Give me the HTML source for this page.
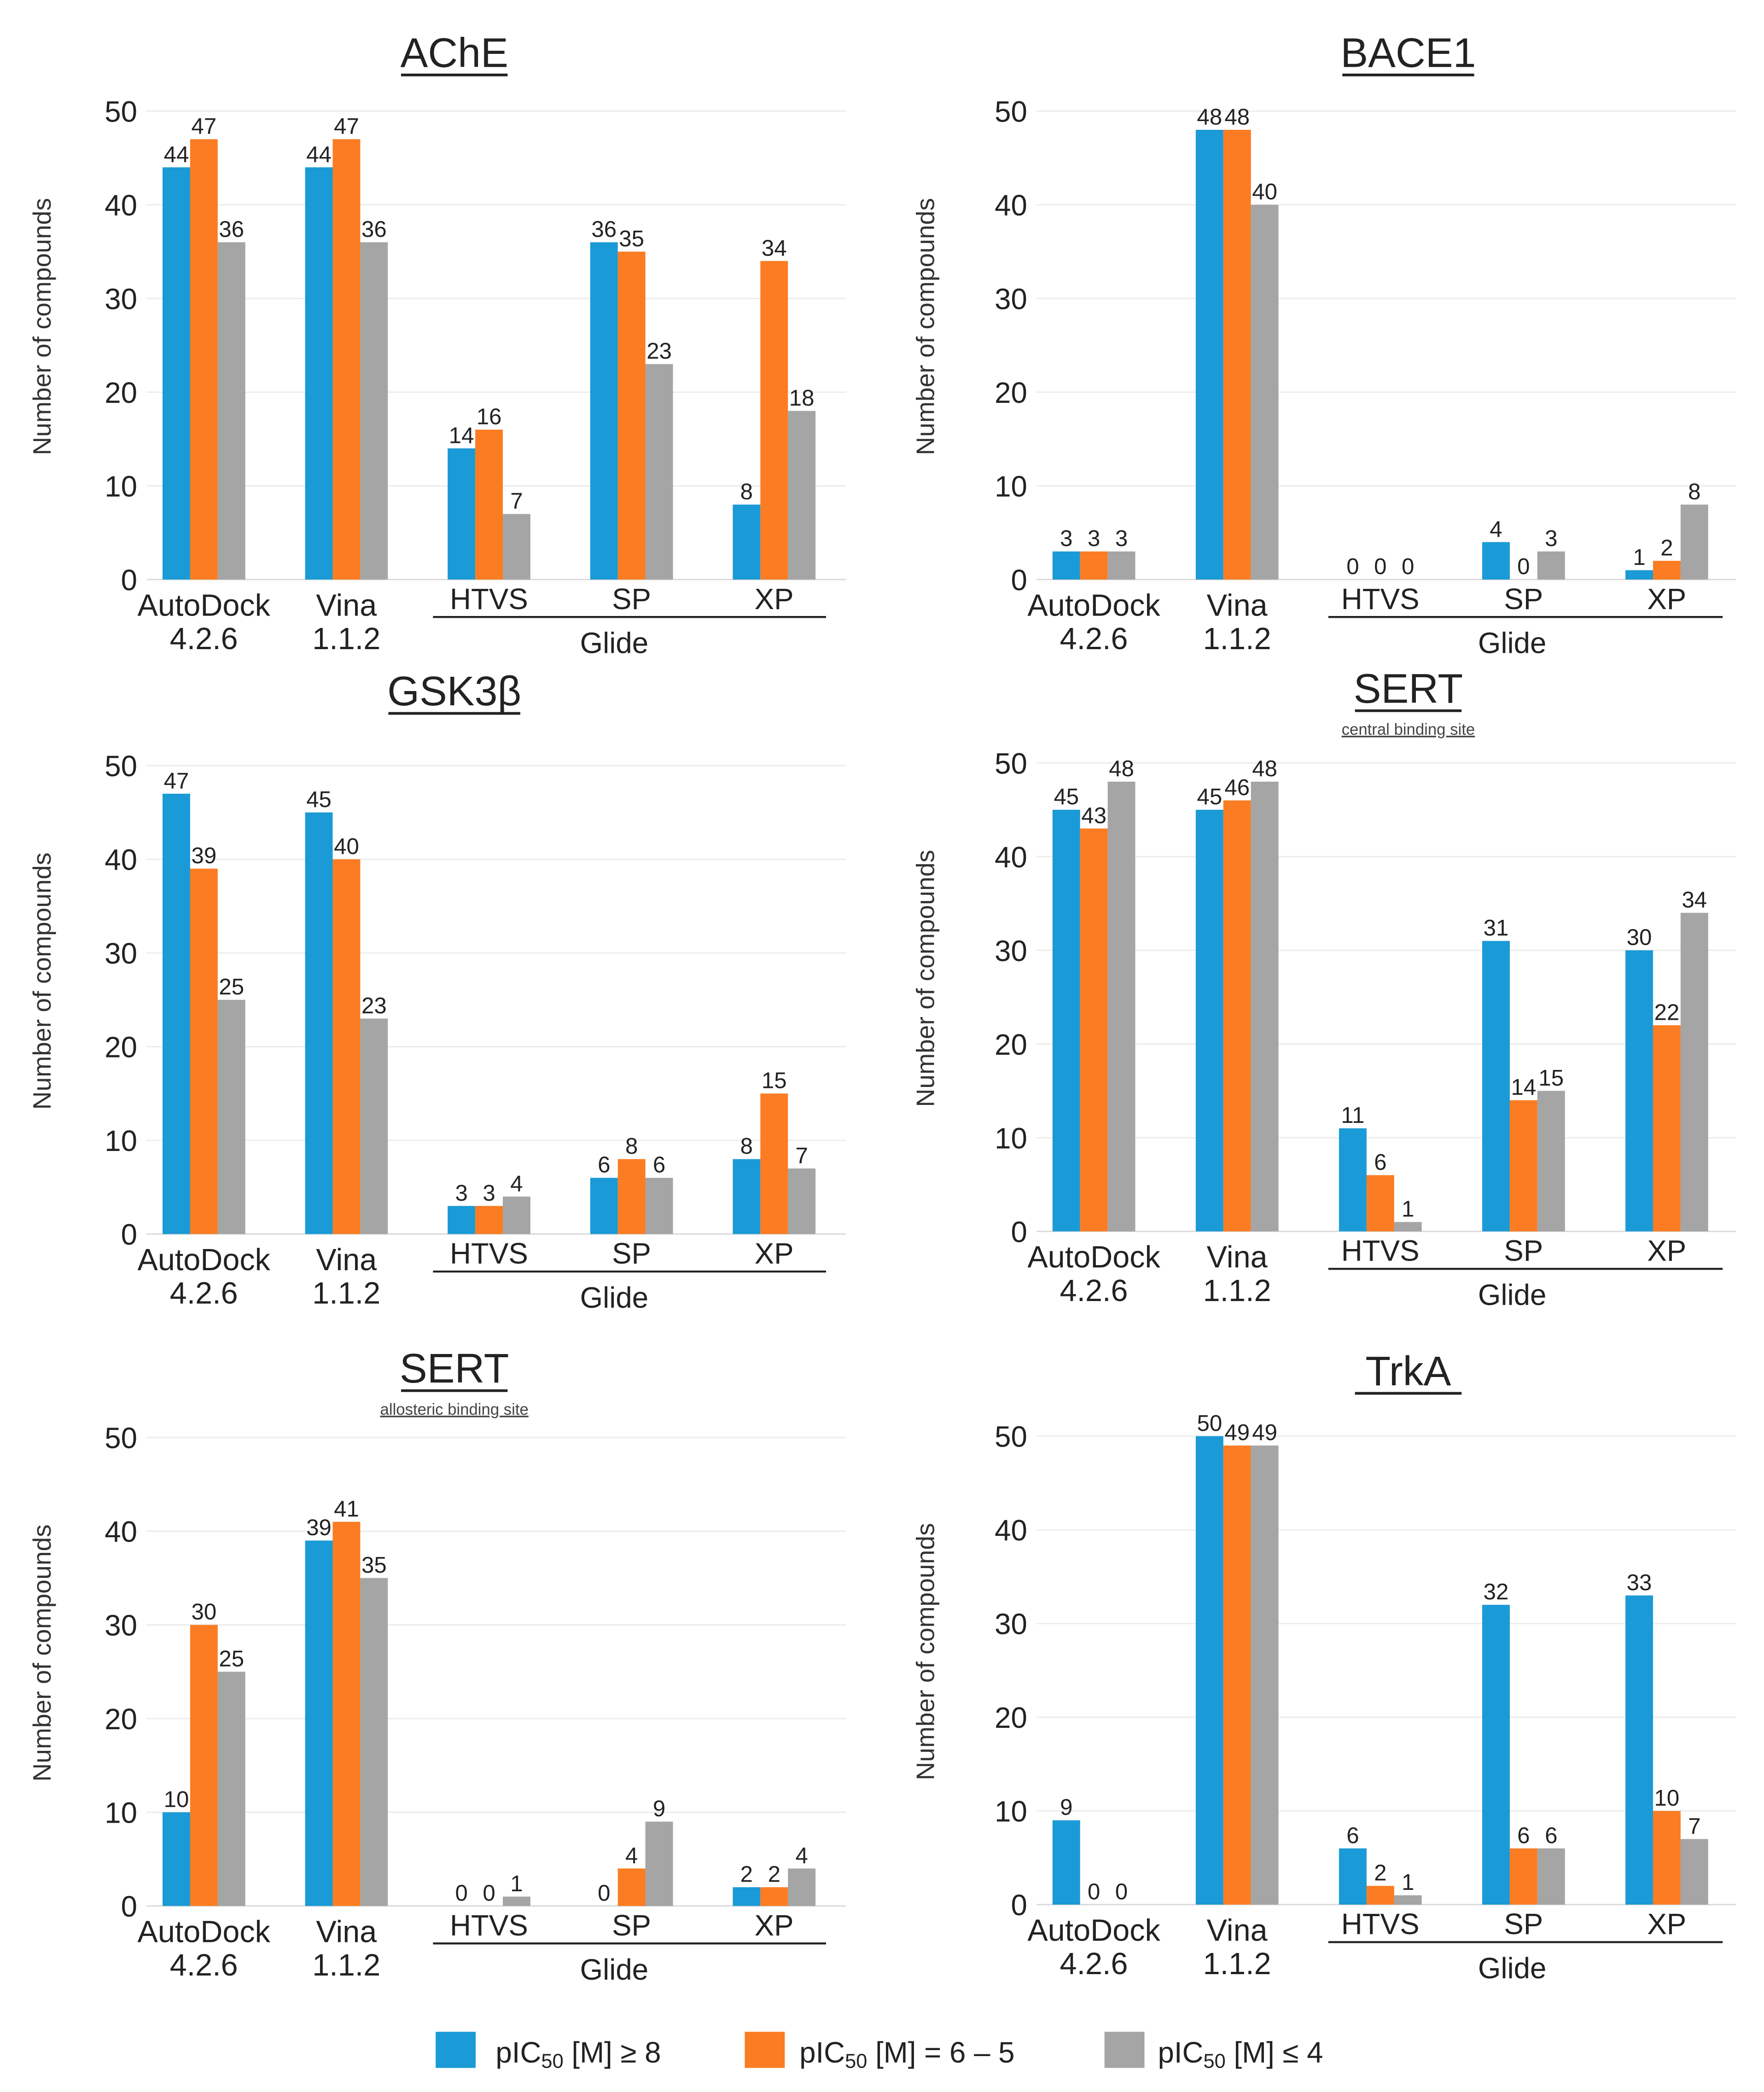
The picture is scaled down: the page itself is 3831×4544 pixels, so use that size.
<!DOCTYPE html>
<html><head><meta charset="utf-8"><style>
html,body{margin:0;padding:0;background:#fff;}
svg{display:block;}
text{font-family:"Liberation Sans","DejaVu Sans",sans-serif;}
</style></head><body>
<svg id="chart" xmlns="http://www.w3.org/2000/svg" width="3831" height="4544" viewBox="0 0 1324 1563" preserveAspectRatio="none">
<rect width="1324" height="1563" fill="#fff"/>
<g id="legend">
 <g><rect x="327" y="1518" width="30" height="27" fill="#1a9ad6"/><text x="372" y="1541" font-size="22" fill="#222">pIC<tspan font-size="15" dy="4">50</tspan><tspan dy="-4"> [M] ≥ 8</tspan></text></g>
 <g><rect x="559" y="1518" width="30" height="27" fill="#fb7c22"/><text x="600" y="1541" font-size="22" fill="#222">pIC<tspan font-size="15" dy="4">50</tspan><tspan dy="-4"> [M] = 6 – 5</tspan></text></g>
 <g><rect x="829" y="1518" width="30" height="27" fill="#a5a5a5"/><text x="869" y="1541" font-size="22" fill="#222">pIC<tspan font-size="15" dy="4">50</tspan><tspan dy="-4"> [M] ≤ 4</tspan></text></g>
</g>
</svg>
<script>
const categories = ["AutoDock","Vina","HTVS","SP","XP"];
const yTicks = [0,10,20,30,40,50];
const panelTitles = ["AChE","BACE1","GSK3β","SERT","SERT","TrkA"];
const panelSubtitles = ["","","","central binding site","allosteric binding site",""];
const seriesHigh = [[44,44,14,36,8],[3,48,0,4,1],[47,45,3,6,8],[45,45,11,31,30],[10,39,0,0,2],[9,50,6,32,33]];
const seriesMid  = [[47,47,16,35,34],[3,48,0,0,2],[39,40,3,8,15],[43,46,6,14,22],[30,41,0,4,2],[0,49,2,6,10]];
const seriesLow  = [[36,36,7,23,18],[3,40,0,3,8],[25,23,4,6,7],[48,48,1,15,34],[25,35,1,9,4],[0,49,1,6,7]];

const NS="http://www.w3.org/2000/svg";
const svg=document.getElementById('chart');
const colors=["#1a9ad6","#fb7c22","#a5a5a5"];
const layout=[{dx:0,y0:433,t:38,tc:341,gs:107,l1:325,l2:620,gl:461,yt:32},
              {dx:668,y0:433,t:38,tc:1057,gs:107.5,l1:997,l2:1293,gl:1135,yt:695},
              {dx:0,y0:922,t:515,tc:341,gs:107,l1:325,l2:620,gl:461,yt:32},
              {dx:668,y0:920,t:513,tc:1057,gs:107.5,l1:997,l2:1293,gl:1135,yt:695},
              {dx:0,y0:1424,t:1021,tc:341,gs:107,l1:325,l2:620,gl:461,yt:32},
              {dx:668,y0:1423,t:1023,tc:1057,gs:107.5,l1:997,l2:1293,gl:1135,yt:695}];
function mk(tag,attrs,parent,txt){const e=document.createElementNS(NS,tag);for(const k in attrs)e.setAttribute(k,attrs[k]);if(txt!==undefined)e.textContent=txt;parent.appendChild(e);return e;}

layout.forEach((L,p)=>{
  const g=mk('g',{},svg);
  
  
  const yScale=v=>L.y0-v*7;
  const xGroup=i=>L.dx+153+i*L.gs;
  yTicks.forEach(t=>{
    const gl=mk('line',{x1:L.dx+110,x2:L.dx+635,y1:yScale(t),y2:yScale(t),stroke:t===0?'#d9d9d9':'#ececec','stroke-width':1},g);
    
    
    const tl=mk('text',{x:L.dx+103,y:yScale(t)+8,'font-size':22,'text-anchor':'end',fill:'#222'},g,String(t));
    
    
  });
  const cy=yScale(27);
  const yt=mk('text',{x:0,y:0,'font-size':19,'text-anchor':'middle',fill:'#333',transform:`translate(${L.yt+6},${cy}) rotate(-90)`},g,'Number of compounds');
  
  
  const cx=L.tc;
  const tt=mk('text',{x:cx,y:L.t+12,'font-size':31,'text-anchor':'middle',fill:'#222'},g,panelTitles[p]);
  
  
  const tw=panelTitles[p].length*19+4;
  mk('line',{x1:cx-tw/2,x2:cx+tw/2,y1:L.t+18,y2:L.t+18,stroke:'#222','stroke-width':2},g);
  if(panelSubtitles[p]){
    const st=mk('text',{x:cx,y:L.t+36,'font-size':12,'text-anchor':'middle',fill:'#444','text-decoration':'underline'},g,panelSubtitles[p]);
    
    
  }
  [seriesHigh,seriesMid,seriesLow].forEach((S,s)=>{
    S[p].forEach((v,i)=>{
      const x=xGroup(i)-31+s*20.7;
      const r=mk('rect',{x:x,y:yScale(v),width:20.7,height:v*7,fill:colors[s]},g);
      
      
      const lb=mk('text',{x:x+10.35,y:yScale(v)-4,'font-size':17,'text-anchor':'middle',fill:'#222'},g,String(v));
      
      
    });
  });
  const base=L.y0;
  categories.forEach((c,i)=>{
    const lines = i===0?["AutoDock","4.2.6"]: i===1?["Vina","1.1.2"]:[c];
    lines.forEach((ln,j)=>{
      const ct=mk('text',{x:xGroup(i),y:base+(i<2?27:22)+j*25,'font-size':i<2?23:22,'text-anchor':'middle',fill:'#222'},g,ln);
      
      
    });
  });
  mk('line',{x1:L.l1,x2:L.l2,y1:base+28,y2:base+28,stroke:'#222','stroke-width':1.5},g);
  const gt=mk('text',{x:L.gl,y:base+55,'font-size':22,'text-anchor':'middle',fill:'#222'},g,'Glide');
  
  
});
</script>
</body></html>
